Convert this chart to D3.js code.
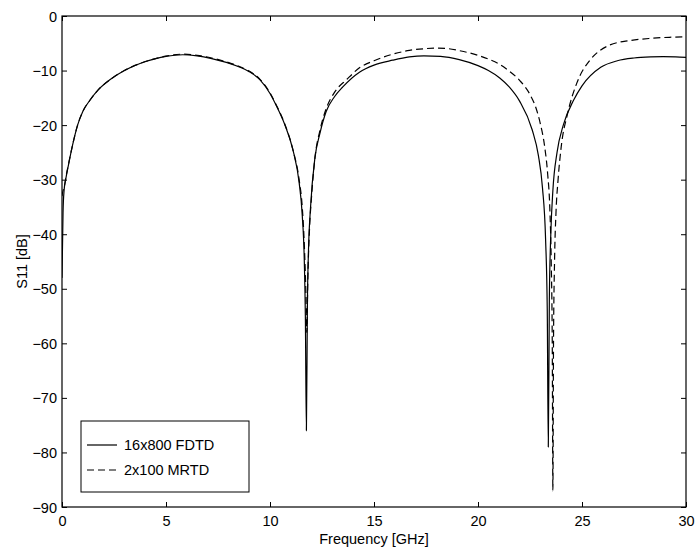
<!DOCTYPE html>
<html><head><meta charset="utf-8">
<script src="https://cdn.jsdelivr.net/npm/d3@7"></script>
<style>body{margin:0;background:#fff}svg text{font-family:"Liberation Sans",Arial,Helvetica,sans-serif;fill:#000}</style>
</head><body><svg id="c" width="698" height="550"></svg>
<script>
const xTicks = [0,5,10,15,20,25,30];
const yTicks = [0,-10,-20,-30,-40,-50,-60,-70,-80,-90];
const seriesNames = ["16x800 FDTD","2x100 MRTD"];
const fdtdFreq = [0,0.05,0.1,0.2,0.3,0.5,0.75,1.0,1.35,1.75,2.3,3.0,3.75,4.5,5.0,5.8,6.5,7.2,7.9,8.56,9.0,9.52,10.0,10.3,10.7,11.1,11.4,11.55,11.65,11.7,11.75,11.8,11.85,11.95,12.16,12.4,12.7,13.1,13.5,14.3,15.0,15.9,16.7,17.4,18.2,19.1,20.0,20.5,21.06,21.5,22.0,22.6,22.9,23.1,23.25,23.33,23.38,23.43,23.5,23.6,23.8,24.1,24.6,25.0,25.9,26.7,27.5,28.3,28.9,29.5,30];
const fdtdS11 = [-48,-36,-32,-29.5,-27.5,-23.8,-20,-17.5,-15.4,-13.5,-11.7,-10,-8.7,-7.8,-7.4,-7.1,-7.3,-7.8,-8.5,-9.4,-10.2,-11.7,-14.2,-16.4,-19.8,-24.5,-30.5,-36.5,-45,-55,-76,-52,-43,-35,-26,-21.5,-17.5,-14.8,-13,-10.3,-9.0,-8.1,-7.5,-7.3,-7.4,-8.0,-9.1,-10.0,-11.4,-13.0,-15.6,-20.8,-25.5,-31.5,-41,-54,-79,-52,-40,-32,-25,-20,-15.4,-12.8,-9.4,-8.2,-7.7,-7.5,-7.45,-7.5,-7.6];
const mrtdFreq = [0,0.05,0.1,0.2,0.3,0.5,0.75,1.0,1.35,1.75,2.3,3.0,3.75,4.5,5.0,5.8,6.5,7.2,7.9,8.56,9.0,9.52,10.0,10.3,10.7,11.1,11.4,11.55,11.65,11.72,11.77,11.82,11.9,12.0,12.16,12.4,12.7,13.1,13.7,14.3,15.0,15.9,16.7,17.4,18.0,18.6,19.1,20.0,20.5,21.06,21.5,22.0,22.5,22.8,23.0,23.2,23.35,23.45,23.52,23.57,23.6,23.63,23.68,23.75,23.85,24.0,24.3,24.75,25.4,25.87,26.35,27.3,28.3,29.2,30];
const mrtdS11 = [-33,-32,-31.5,-29.3,-27.4,-23.8,-20,-17.5,-15.4,-13.5,-11.7,-10,-8.7,-7.8,-7.35,-7.0,-7.2,-7.7,-8.4,-9.3,-10.1,-11.6,-14.1,-16.3,-19.7,-24.5,-30,-35,-42,-50,-58,-48,-39,-33,-26,-21,-17,-14,-11.6,-9.5,-8.2,-7.0,-6.3,-6.0,-5.9,-6.0,-6.35,-7.2,-7.9,-8.9,-10.1,-11.8,-14.4,-17.0,-19.8,-23.8,-29,-35,-45,-60,-87,-60,-45,-36,-30,-24,-18,-12.3,-8.0,-6.3,-5.3,-4.5,-4.1,-3.9,-3.8];

const svg = d3.select("#c");
const L=62, R=686, T=16, B=507;
const x = d3.scaleLinear().domain([0,30]).range([L,R]);
const y = d3.scaleLinear().domain([-90,0]).range([B,T]);

svg.append("defs").append("clipPath").attr("id","clip").append("rect")
  .attr("x",L).attr("y",T).attr("width",R-L).attr("height",B-T);

const fs = 14.5;
const fmt = d => d<0 ? "\u2212"+Math.abs(d) : String(d);
const gB = svg.append("g").attr("transform",`translate(0,${B})`)
  .call(d3.axisBottom(x).tickValues(xTicks).tickSizeInner(-5).tickSizeOuter(0).tickPadding(9).tickFormat(fmt));
const gT = svg.append("g").attr("transform",`translate(0,${T})`)
  .call(d3.axisTop(x).tickValues(xTicks).tickSizeInner(-5).tickSizeOuter(0).tickFormat(""));
const gL = svg.append("g").attr("transform",`translate(${L},0)`)
  .call(d3.axisLeft(y).tickValues(yTicks).tickSizeInner(-5).tickSizeOuter(0).tickPadding(5).tickFormat(fmt));
const gR = svg.append("g").attr("transform",`translate(${R},0)`)
  .call(d3.axisRight(y).tickValues(yTicks).tickSizeInner(-5).tickSizeOuter(0).tickFormat(""));
[gB,gT,gL,gR].forEach(g=>{
  g.select(".domain").remove();
  g.selectAll(".tick line").attr("stroke","#000").attr("stroke-width",1);
  g.selectAll("text").attr("font-size",fs).attr("font-family","Liberation Sans, Arial, sans-serif").attr("fill","#000");
});
gL.selectAll("text").attr("dy","0.35em");
svg.append("rect").attr("x",L).attr("y",T).attr("width",R-L).attr("height",B-T)
  .attr("fill","none").attr("stroke","#000").attr("stroke-width",1.2);

const line = d3.line().x(d=>x(d[0])).y(d=>y(d[1])).curve(d3.curveMonotoneX);
const fdtd = fdtdFreq.map((f,i)=>[f,fdtdS11[i]]);
const mrtd = mrtdFreq.map((f,i)=>[f,mrtdS11[i]]);
const plot = svg.append("g").attr("clip-path","url(#clip)");
plot.append("path").datum(fdtd).attr("d",line).attr("fill","none").attr("stroke","#000").attr("stroke-width",1.2);
plot.append("path").datum(mrtd).attr("d",line).attr("fill","none").attr("stroke","#000").attr("stroke-width",1.2).attr("stroke-dasharray","7,4");

svg.append("text").attr("x",(L+R)/2).attr("y",544).attr("text-anchor","middle").attr("font-size",fs).text("Frequency [GHz]");
svg.append("text").attr("transform",`translate(27,${(T+B)/2}) rotate(-90)`).attr("text-anchor","middle").attr("font-size",fs).text("S11 [dB]");

const lg = svg.append("g");
lg.append("rect").attr("x",81).attr("y",421).attr("width",168).attr("height",71).attr("fill","#fff").attr("stroke","#000").attr("stroke-width",1);
const dashes = [null,"7,4"];
seriesNames.forEach((n,i)=>{
  const yy = 445 + i*25;
  lg.append("line").attr("x1",87).attr("x2",117).attr("y1",yy).attr("y2",yy).attr("stroke","#000").attr("stroke-width",1.2).attr("stroke-dasharray",dashes[i]);
  lg.append("text").attr("x",124).attr("y",yy).attr("dy","0.35em").attr("font-size",fs).text(n);
});
</script></body></html>
